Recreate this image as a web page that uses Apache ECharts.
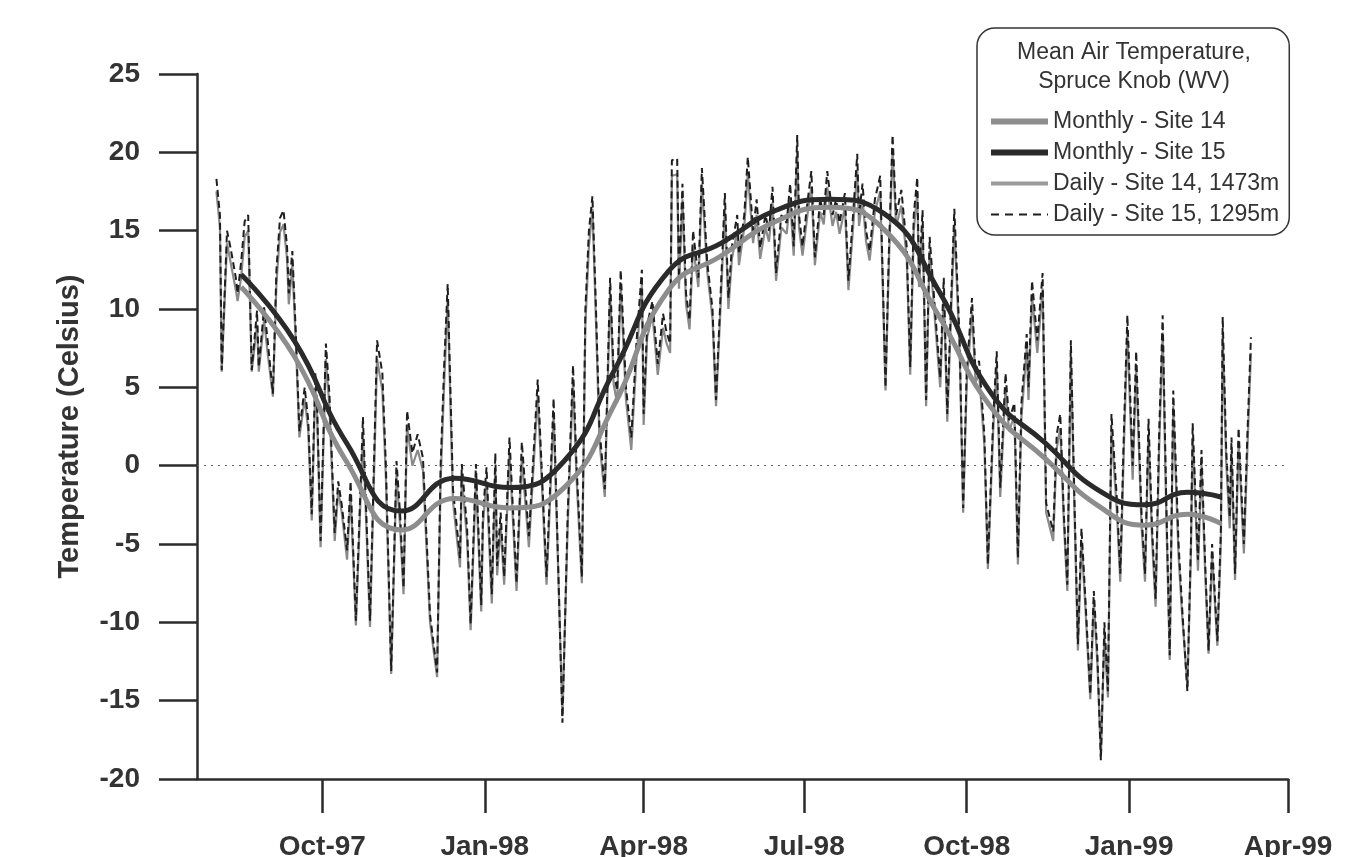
<!DOCTYPE html>
<html>
<head>
<meta charset="utf-8">
<script src="https://cdn.jsdelivr.net/npm/echarts@6/dist/echarts.min.js"></script>
<style>
html,body{margin:0;padding:0;background:#ffffff;}
#chart{width:1356px;height:857px;}
</style>
</head>
<body>
<div id="chart"></div>
<script>
// ---------- data ----------
const axisStart = '1997-07-22';
const axisEnd = '1999-04-01';
const quarterDates = ['1997-10-01','1998-01-01','1998-04-01','1998-07-01','1998-10-01','1999-01-01','1999-04-01'];
const quarterLabels = ['Oct-97','Jan-98','Apr-98','Jul-98','Oct-98','Jan-99','Apr-99'];

const monthlyDates = ['1997-08-16','1997-09-15','1997-10-15','1997-11-15','1997-12-15','1998-01-15','1998-02-15','1998-03-15','1998-04-15','1998-05-15','1998-06-15','1998-07-15','1998-08-15','1998-09-15','1998-10-15','1998-11-15','1998-12-15','1999-01-10','1999-02-03','1999-02-22'];
const monthlySite14 = [11.4, 7.0, 0.2, -4.1, -2.1, -2.7, -1.4, 3.8, 11.2, 13.4, 15.6, 16.5, 15.1, 9.6, 3.7, 0.4, -2.6, -3.8, -3.1, -3.7];
const monthlySite15 = [12.2, 8.0, 1.4, -2.9, -0.8, -1.4, 0.3, 6.0, 12.4, 14.2, 16.3, 17.0, 16.1, 11.2, 4.6, 1.4, -1.6, -2.5, -1.7, -2.0];

// daily readings: day number counted from dailyStart
const dailyStart = '1997-08-01';
const dailyDays = [
  1,3,4,7,9,12,13,15,17,19,
  21,24,25,28,30,33,35,37,39,41,
  42,44,46,48,51,53,55,57,58,60,
  63,65,68,70,72,75,77,80,84,88,
  92,95,97,100,103,105,107,109,112,115,
  118,122,126,128,130,132,135,139,140,143,
  145,148,151,152,154,157,159,160,162,164,
  167,171,174,178,183,188,192,197,200,203,
  205,208,210,212,214,216,218,221,224,226,
  228,230,233,236,239,242,243,245,248,251,
  254,256,258,259,262,263,265,267,269,271,
  274,276,279,282,284,287,289,291,293,296,
  297,300,302,305,307,309,312,314,316,318,
  321,324,326,328,330,331,333,336,338,340,
  343,345,347,350,352,354,357,359,361,364,
  365,367,369,371,374,377,380,382,384,386,
  389,392,394,396,398,399,401,403,405,408,
  411,413,415,417,419,422,424,426,429,431,
  433,436,438,441,443,445,448,450,453,455,
  457,460,461,463,466,469,471,475,477,479,
  481,483,485,487,489,491,493,496,498,500,
  502,504,506,508,511,513,515,517,520,522,
  525,527,529,531,533,535,537,539,541,543,
  546,548,551,553,554,557,559,561,563,565,
  568,570,571,573,575,576,578,580,583,585,
  587
];
const dailySite15 = [
  18.3,16.0,6.1,15.0,13.9,12.0,11.0,13.0,15.6,16.0,
  6.1,9.9,6.3,10.1,8.0,4.6,12.5,15.8,16.3,14.0,
  11.0,13.7,8.4,2.2,5.0,2.9,-3.1,5.9,4.0,-4.8,
  7.8,4.6,-4.3,-1.0,-2.5,-5.4,-1.0,-9.9,3.1,-9.9,
  8.0,5.9,0.0,-13.1,0.3,-3.0,-7.8,3.5,0.8,2.0,
  0.5,-9.5,-13.2,0.0,6.4,11.6,-1.5,-5.9,0.1,-4.0,
  -10.1,0.1,-8.9,-3.0,-0.1,-8.2,0.8,-6.4,-3.0,-7.1,
  1.8,-7.5,1.5,-4.5,5.5,-7.1,4.3,-16.4,-3.0,6.4,
  0.0,-7.1,10.0,15.0,17.2,10.0,2.3,-1.5,12.0,6.0,
  4.8,12.5,5.0,1.8,8.0,12.5,3.3,9.0,10.5,6.5,
  9.7,8.5,7.8,19.5,19.6,12.0,18.0,11.0,9.3,15.0,
  12.0,19.0,13.0,10.0,4.2,12.0,17.4,10.7,14.0,16.0,
  13.5,16.0,19.7,15.0,17.0,13.9,16.0,15.0,17.8,12.3,
  16.0,15.5,18.0,14.0,21.1,16.0,14.0,17.0,18.8,13.3,
  17.0,16.0,18.8,16.0,17.0,15.5,17.4,11.8,15.0,19.9,
  16.0,18.0,15.0,13.7,17.0,18.5,5.0,14.0,21.1,16.0,
  17.6,14.0,6.3,16.0,18.4,12.0,16.3,4.2,14.6,10.0,
  5.6,12.0,3.3,10.0,16.4,8.0,-2.7,6.0,10.7,6.0,
  6.7,2.0,-6.3,3.0,7.3,-1.4,5.9,2.9,4.0,-5.9,
  4.0,8.4,5.0,11.8,8.0,12.3,-2.4,-4.2,2.0,3.3,
  -3.0,-7.6,8.0,-2.0,-11.4,-4.0,-8.0,-14.6,-8.0,-12.0,
  -18.8,-10.0,-14.4,3.3,-2.0,-6.9,2.0,9.6,0.0,7.3,
  -3.0,-6.9,3.0,-4.0,-8.5,2.0,9.6,-2.0,-12.1,4.8,
  -5.0,-9.0,-14.4,-5.0,2.7,-6.0,1.0,-6.0,-11.8,-5.0,
  -11.2,-4.0,9.5,1.0,-3.3,1.8,-6.9,2.4,-5.0,2.0,
  8.2
];
const dailySite14 = [
  17.5,15.2,6.0,14.2,13.0,11.2,10.5,12.0,14.6,15.0,
  6.0,9.0,6.0,9.3,7.2,4.4,11.6,14.9,15.4,13.2,
  10.3,12.8,7.8,1.8,4.3,2.3,-3.5,5.0,3.4,-5.2,
  6.8,3.8,-4.8,-1.6,-3.0,-6.0,-1.8,-10.2,2.0,-10.3,
  6.8,4.8,-0.8,-13.3,-0.6,-3.8,-8.2,2.5,0.0,1.0,
  -0.3,-10.0,-13.5,-1.0,5.2,10.6,-2.3,-6.5,-0.8,-4.7,
  -10.5,-0.9,-9.3,-3.7,-1.0,-8.8,-0.2,-7.0,-3.8,-7.6,
  0.8,-8.0,0.5,-5.2,4.5,-7.6,3.3,-16.0,-3.8,5.4,
  -0.8,-7.5,9.0,14.0,16.4,9.2,1.5,-2.0,11.0,5.2,
  4.0,11.5,4.2,1.0,7.0,11.6,2.6,8.2,9.6,5.8,
  8.8,7.8,7.2,18.5,18.6,11.3,17.0,10.3,8.7,14.0,
  11.4,18.0,12.4,9.4,3.8,11.2,16.4,10.0,13.2,15.0,
  12.8,15.2,18.7,14.2,16.0,13.2,15.2,14.3,16.8,11.8,
  15.2,14.8,17.0,13.4,20.0,15.2,13.4,16.2,17.8,12.8,
  16.2,15.4,17.8,15.3,16.2,14.8,16.5,11.2,14.2,18.9,
  15.3,17.0,14.3,13.1,16.2,17.5,4.8,13.2,20.2,15.3,
  16.6,13.3,5.8,15.0,17.4,11.4,15.4,3.8,13.7,9.3,
  5.0,11.2,2.8,9.2,15.4,7.3,-3.0,5.2,9.8,5.3,
  5.9,1.3,-6.6,2.2,6.4,-2.0,5.0,2.2,3.2,-6.3,
  3.1,7.5,4.2,10.8,7.2,11.3,-3.0,-4.8,1.1,2.4,
  -3.6,-8.0,7.0,-2.8,-11.8,-4.8,-8.6,-14.9,-8.7,-12.6,
  -18.6,-10.8,-14.8,2.3,-2.8,-7.4,1.0,8.6,-0.9,6.3,
  -3.8,-7.4,2.0,-4.7,-9.0,1.0,8.5,-2.9,-12.4,3.8,
  -5.8,-9.5,-14.1,-5.7,1.8,-6.7,0.1,-6.6,-12.0,-5.7,
  -11.5,-4.8,8.3,0.2,-4.0,0.9,-7.3,1.5,-5.6,1.0,
  7.2
];

const yMin = -20, yMax = 25, yStep = 5;

// ---------- helpers ----------
const DAY = 86400000;
function utc(s){ const p = s.split('-').map(Number); return Date.UTC(p[0], p[1]-1, p[2]); }
const startT = utc(axisStart), endT = utc(axisEnd);
const categories = [];
for (let t = startT; t <= endT; t += DAY) categories.push(new Date(t).toISOString().slice(0,10));
function idx(s){ return Math.round((utc(s) - startT) / DAY); }
const dailyOffset = idx(dailyStart);

const monthly14 = monthlyDates.map((d,i) => [idx(d), monthlySite14[i]]);
const monthly15 = monthlyDates.map((d,i) => [idx(d), monthlySite15[i]]);
const daily14 = dailyDays.map((d,i) => [dailyOffset + d, dailySite14[i]]);
const daily15 = dailyDays.map((d,i) => [dailyOffset + d, dailySite15[i]]);

const FONT = "'Liberation Sans', Arial, Helvetica, sans-serif";
const INK = '#2b2b2b';
const isQuarter = (i, v) => quarterDates.indexOf(v) >= 0;

const chart = echarts.init(document.getElementById('chart'), null, {renderer:'canvas'});
chart.setOption({
  animation: false,
  backgroundColor: '#ffffff',
  textStyle: {fontFamily: FONT},
  grid: {left: 197, right: 68, top: 74, bottom: 78, containLabel: false, outerBoundsMode: 'none'},
  graphic: [{
    type: 'text', x: 1134, y: 38, z: 100,
    style: {
      text: 'Mean Air Temperature,\nSpruce Knob (WV)',
      align: 'center', verticalAlign: 'top',
      fontSize: 23, fontFamily: FONT, fill: '#333', lineHeight: 29
    }
  }],
  legend: {
    orient: 'vertical', left: 977, top: 28,
    padding: [82, 10, 9, 11],
    itemGap: 8, itemWidth: 57, itemHeight: 24, itemTextGap: 14,
    borderColor: '#333', borderWidth: 1.5, borderRadius: 18,
    backgroundColor: '#ffffff',
    selectedMode: false,
    itemStyle: {opacity: 0},
    textStyle: {fontSize: 23, color: '#333', fontFamily: FONT},
    data: [
      {name: 'Monthly - Site 14', lineStyle: {width: 6, color: '#8d8d8d'}},
      {name: 'Monthly - Site 15', lineStyle: {width: 6, color: '#2a2a2a'}},
      {name: 'Daily - Site 14, 1473m', lineStyle: {width: 4, color: '#9a9a9a'}},
      {name: 'Daily - Site 15, 1295m', lineStyle: {width: 2, color: '#1e1e1e', type: [8, 6]}}
    ]
  },
  xAxis: {
    type: 'category', data: categories, boundaryGap: false,
    axisLine: {show: true, onZero: false, lineStyle: {color: INK, width: 2.5}},
    axisTick: {show: true, interval: isQuarter, length: 34, lineStyle: {color: INK, width: 2.5}},
    axisLabel: {
      interval: isQuarter, margin: 54,
      fontSize: 28, fontWeight: 'bold', color: '#333', fontFamily: FONT,
      formatter: v => quarterLabels[quarterDates.indexOf(v)]
    },
    splitLine: {show: false}
  },
  yAxis: {
    type: 'value', min: yMin, max: yMax, interval: yStep,
    name: 'Temperature (Celsius)', nameLocation: 'middle', nameGap: 113,
    nameTextStyle: {fontSize: 29, fontWeight: 'bold', color: '#333', fontFamily: FONT},
    axisLine: {show: true, lineStyle: {color: INK, width: 2.5}},
    axisTick: {show: true, length: 38, lineStyle: {color: INK, width: 2.5}},
    axisLabel: {margin: 57, fontSize: 28, fontWeight: 'bold', color: '#333', fontFamily: FONT},
    splitLine: {show: false}
  },
  series: [
    {
      name: 'Daily - Site 14, 1473m', type: 'line', data: daily14,
      symbol: 'none', smooth: false, z: 2,
      lineStyle: {color: '#8a8a8a', width: 2.2},
      itemStyle: {color: '#8a8a8a'},
      markLine: {
        silent: true, symbol: 'none', label: {show: false},
        lineStyle: {color: '#666', width: 1, type: [2, 5]},
        data: [{yAxis: 0}]
      }
    },
    {
      name: 'Daily - Site 15, 1295m', type: 'line', data: daily15,
      symbol: 'none', smooth: false, z: 3,
      lineStyle: {color: '#1e1e1e', width: 2, type: [7, 4]},
      itemStyle: {color: '#1e1e1e'}
    },
    {
      name: 'Monthly - Site 14', type: 'line', data: monthly14,
      symbol: 'none', smooth: 0.5, z: 4,
      lineStyle: {color: '#8d8d8d', width: 5},
      itemStyle: {color: '#8d8d8d'}
    },
    {
      name: 'Monthly - Site 15', type: 'line', data: monthly15,
      symbol: 'none', smooth: 0.5, z: 5,
      lineStyle: {color: '#2a2a2a', width: 5},
      itemStyle: {color: '#2a2a2a'}
    }
  ]
});
</script>
</body>
</html>
